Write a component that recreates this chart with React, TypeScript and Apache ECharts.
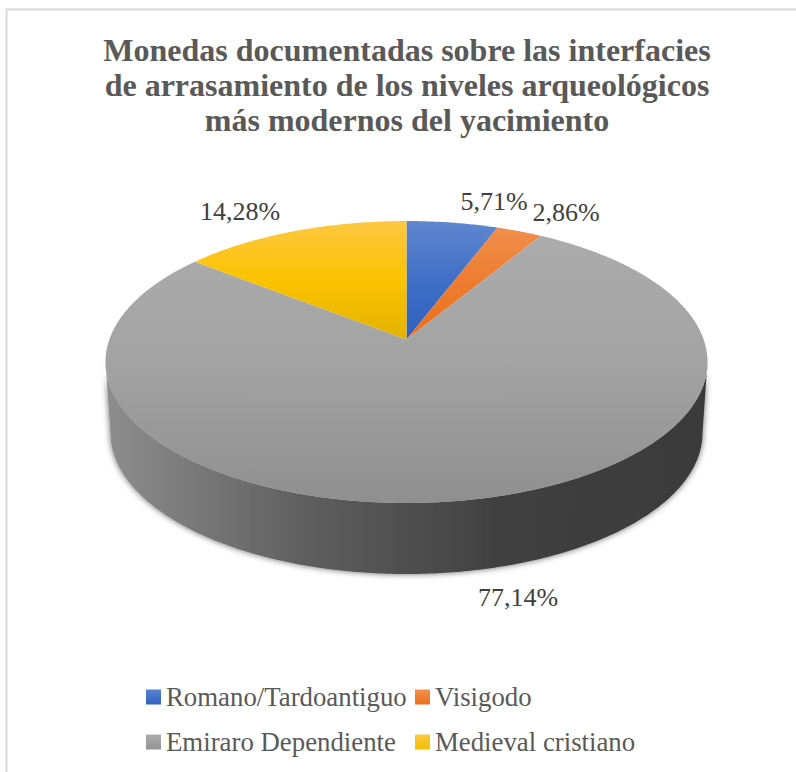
import React, { useEffect, useRef } from "react";
import * as echarts from "echarts";

const TITLE = "Monedas documentadas sobre las interfacies\nde arrasamiento de los niveles arqueológicos\nmás modernos del yacimiento";
const CATEGORIES = ["Romano/Tardoantiguo", "Visigodo", "Emiraro Dependiente", "Medieval cristiano"];
const VALUES = [5.71, 2.86, 77.14, 14.28];
const LABELS = ["5,71%", "2,86%", "77,14%", "14,28%"];

const SERIF = "'Liberation Serif', 'Times New Roman', serif";
const TOP_STOPS: [number, string][][] = [
  [[0, "#5f86cf"], [0.5, "#416fc6"], [1, "#2f60bd"]],
  [[0, "#f0914f"], [0.5, "#ee7d31"], [1, "#e96f1b"]],
  [[0, "#adadad"], [0.5, "#a3a3a3"], [1, "#8f8f8f"]],
  [[0, "#fdc843"], [0.5, "#fbc300"], [1, "#e3b200"]],
];
const LEGEND_STOPS: [number, string][][] = [
  [[0, "#5a83cf"], [1, "#2f62c0"]],
  [[0, "#f0914f"], [1, "#ec6f1c"]],
  [[0, "#adadad"], [1, "#939393"]],
  [[0, "#fdc843"], [1, "#f5bf00"]],
];
const LABEL_ANCHORS = [
  [494, 201],
  [566, 212],
  [518, 597],
  [240, 211],
];

// Projection of the tilted disc
const APEX = { x: 406.5, y: 339.5 };
const TOP = { cx: 406.5, cy: 362, rx: 301, ry: 141 };
const BOTTOM = { cx: 406.5, cy: 433, rx: 296, ry: 141 };
const TILT = 2.17;

function rimPoint(deg: number): number[] {
  const r = (deg * Math.PI) / 180;
  const dx = TILT * Math.sin(r);
  const dy = -Math.cos(r);
  const px = (APEX.x - TOP.cx) / TOP.rx;
  const py = (APEX.y - TOP.cy) / TOP.ry;
  const qx = dx / TOP.rx;
  const qy = dy / TOP.ry;
  const A = qx * qx + qy * qy;
  const B = 2 * (px * qx + py * qy);
  const C = px * px + py * py - 1;
  const t = (-B + Math.sqrt(B * B - 4 * A * C)) / (2 * A);
  return [APEX.x + t * dx, APEX.y + t * dy];
}

function sliceAngles(i: number): [number, number] {
  const total = VALUES.reduce((a, b) => a + b, 0);
  const before = VALUES.slice(0, i).reduce((a, b) => a + b, 0);
  return [(before / total) * 360, ((before + VALUES[i]) / total) * 360];
}

function topPolygon(i: number): number[][] {
  const [a0, a1] = sliceAngles(i);
  const n = Math.max(4, Math.ceil((a1 - a0) * 2));
  const pts: number[][] = [[APEX.x, APEX.y]];
  for (let k = 0; k <= n; k++) pts.push(rimPoint(a0 + ((a1 - a0) * k) / n));
  return pts;
}

function wallPolygon(): number[][] {
  const pts: number[][] = [];
  const n = 240;
  for (let k = 0; k <= n; k++) {
    const t = (Math.PI * k) / n;
    pts.push([TOP.cx + TOP.rx * Math.cos(t), TOP.cy + TOP.ry * Math.sin(t)]);
  }
  for (let k = n; k >= 0; k--) {
    const t = (Math.PI * k) / n;
    pts.push([BOTTOM.cx + BOTTOM.rx * Math.cos(t), BOTTOM.cy + BOTTOM.ry * Math.sin(t)]);
  }
  return pts;
}

const vGrad = (y0: number, y1: number, stops: [number, string][]) =>
  new echarts.graphic.LinearGradient(
    0, y0, 0, y1,
    stops.map(([offset, color]) => ({ offset, color })),
    true
  );

function renderSlice(i: number) {
  return () => {
    const children: any[] = [];
    const isFront = VALUES[i] === Math.max(...VALUES);
    if (isFront) {
      children.push({
        type: "polygon",
        shape: { points: wallPolygon() },
        style: {
          fill: new echarts.graphic.LinearGradient(
            105, 0, 705, 0,
            [
              { offset: 0, color: "#8e8e8e" },
              { offset: 0.33, color: "#5f5f5f" },
              { offset: 0.66, color: "#404040" },
              { offset: 1, color: "#3a3a3a" },
            ],
            true
          ),
          shadowBlur: 6,
          shadowColor: "rgba(0,0,0,0.6)",
        },
      });
    }
    children.push({
      type: "polygon",
      shape: { points: topPolygon(i) },
      style: { fill: vGrad(TOP.cy - TOP.ry, isFront ? TOP.cy + TOP.ry : APEX.y, TOP_STOPS[i]) },
    });
    children.push({
      type: "text",
      z2: 10,
      style: {
        x: LABEL_ANCHORS[i][0],
        y: LABEL_ANCHORS[i][1],
        text: LABELS[i],
        fill: "#404040",
        font: `26px ${SERIF}`,
        align: "center",
        verticalAlign: "middle",
      },
    });
    return { type: "group", children };
  };
}

export default function App() {
  const ref = useRef<HTMLDivElement>(null);
  useEffect(() => {
    const chart = echarts.init(ref.current!, undefined, { renderer: "svg" });
    const legendBase = {
      orient: "vertical" as const,
      top: 682,
      padding: 0,
      itemWidth: 15,
      itemHeight: 15,
      itemGap: 15,
      selectedMode: false,
      icon: "rect",
      textStyle: { fontFamily: SERIF, fontSize: 26.8, lineHeight: 30, color: "#595959" },
    };
    chart.setOption({
      animation: false,
      backgroundColor: "#ffffff",
      title: {
        text: TITLE,
        left: 402,
        top: 27,
        textAlign: "center",
        textStyle: { fontFamily: SERIF, fontWeight: "bold", fontSize: 32, lineHeight: 35, color: "#595959" },
      },
      legend: [
        { ...legendBase, left: 146, data: [CATEGORIES[0], CATEGORIES[2]] },
        { ...legendBase, left: 415, data: [CATEGORIES[1], CATEGORIES[3]] },
      ],
      graphic: [
        {
          type: "rect",
          silent: true,
          shape: { x: 6.5, y: 9.5, width: 1000, height: 1000 },
          style: { fill: "none", stroke: "#d9d9d9", lineWidth: 2 },
        },
      ],
      series: CATEGORIES.map((name, i) => ({
        type: "custom",
        name,
        coordinateSystem: "none",
        silent: true,
        itemStyle: {
          color: new echarts.graphic.LinearGradient(0, 0, 0, 1, LEGEND_STOPS[i].map(([offset, color]) => ({ offset, color }))),
        },
        data: [[VALUES[i]]],
        renderItem: renderSlice(i),
      })),
    });
    return () => chart.dispose();
  }, []);
  return <div ref={ref} style={{ position: "absolute", left: 0, top: 0, width: 796, height: 772 }} />;
}
